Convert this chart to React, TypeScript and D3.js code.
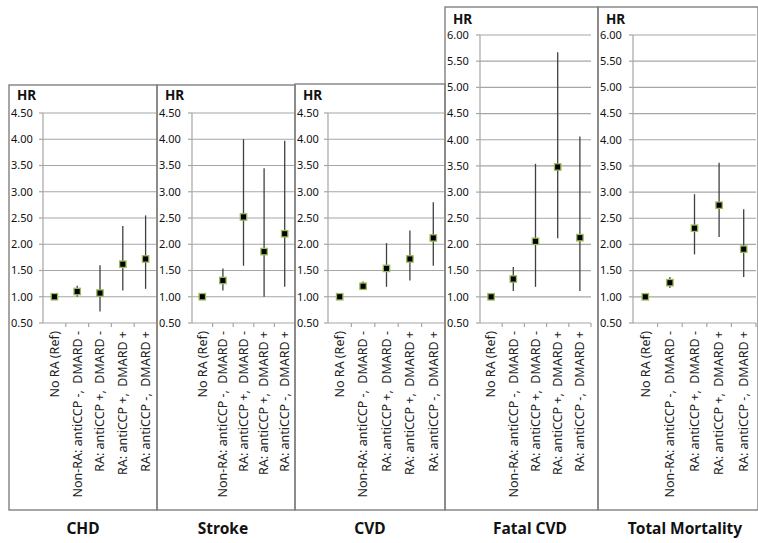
import React from "react";
import * as d3 from "d3";

// ---- Data ----
const CATEGORIES = [
  "No RA (Ref)",
  "Non-RA: antiCCP -,  DMARD -",
  "RA: antiCCP +,  DMARD -",
  "RA: antiCCP +,  DMARD +",
  "RA: antiCCP -,  DMARD +",
];
const OUTCOMES = ["CHD", "Stroke", "CVD", "Fatal CVD", "Total Mortality"];

const HR_CHD = [1.0, 1.1, 1.07, 1.62, 1.72];
const LO_CHD = [1.0, 1.0, 0.72, 1.12, 1.15];
const HI_CHD = [1.0, 1.21, 1.6, 2.35, 2.55];

const HR_STROKE = [1.0, 1.31, 2.52, 1.86, 2.2];
const LO_STROKE = [1.0, 1.12, 1.59, 1.0, 1.19];
const HI_STROKE = [1.0, 1.54, 4.0, 3.45, 3.97];

const HR_CVD = [1.0, 1.2, 1.54, 1.72, 2.12];
const LO_CVD = [1.0, 1.13, 1.19, 1.31, 1.59];
const HI_CVD = [1.0, 1.29, 2.02, 2.26, 2.8];

const HR_FATAL = [1.0, 1.34, 2.06, 3.48, 2.13];
const LO_FATAL = [1.0, 1.11, 1.19, 2.12, 1.11];
const HI_FATAL = [1.0, 1.57, 3.54, 5.67, 4.06];

const HR_TOTAL = [1.0, 1.27, 2.31, 2.75, 1.91];
const LO_TOTAL = [1.0, 1.17, 1.81, 2.14, 1.38];
const HI_TOTAL = [1.0, 1.38, 2.96, 3.56, 2.67];

const TICKS_SHORT = [0.5, 1.0, 1.5, 2.0, 2.5, 3.0, 3.5, 4.0, 4.5];
const TICKS_TALL = [0.5, 1.0, 1.5, 2.0, 2.5, 3.0, 3.5, 4.0, 4.5, 5.0, 5.5, 6.0];

const SERIES = [
  { hr: HR_CHD, lo: LO_CHD, hi: HI_CHD, ticks: TICKS_SHORT },
  { hr: HR_STROKE, lo: LO_STROKE, hi: HI_STROKE, ticks: TICKS_SHORT },
  { hr: HR_CVD, lo: LO_CVD, hi: HI_CVD, ticks: TICKS_SHORT },
  { hr: HR_FATAL, lo: LO_FATAL, hi: HI_FATAL, ticks: TICKS_TALL },
  { hr: HR_TOTAL, lo: LO_TOTAL, hi: HI_TOTAL, ticks: TICKS_TALL },
];

// ---- Layout ----
const LAYOUT = [
  { left: 9, right: 157, top: 85, axisX: 43, plotRight: 157, hrY: 100, yTop: 113, titleX: 83 },
  { left: 157, right: 295, top: 85, axisX: 192, plotRight: 295, hrY: 100, yTop: 113, titleX: 223 },
  { left: 295, right: 445, top: 84, axisX: 328, plotRight: 445, hrY: 100, yTop: 113, titleX: 370 },
  { left: 445, right: 598, top: 7, axisX: 480, plotRight: 591, hrY: 23.5, yTop: 35, titleX: 530 },
  { left: 598, right: 758, top: 7, axisX: 633, plotRight: 756, hrY: 23.5, yTop: 35, titleX: 685 },
];
const BOTTOM = 510;
const Y_BASE = 323;
const FONT = "'Noto Sans', 'Open Sans', sans-serif";
const GRID = "#a6a6a6";
const BORDER = "#808080";

function Panel({ idx }: { idx: number }) {
  const L = LAYOUT[idx];
  const S = SERIES[idx];
  const maxT = S.ticks[S.ticks.length - 1];
  const y = d3.scaleLinear().domain([0.5, maxT]).range([Y_BASE, L.yTop]);
  const x = d3.scaleBand<string>().domain(CATEGORIES).range([L.axisX, L.plotRight]);
  const bw = x.bandwidth();
  const fmt = d3.format(".2f");
  return (
    <g>
      <rect
        x={L.left}
        y={L.top}
        width={L.right - L.left}
        height={BOTTOM - L.top}
        fill="none"
        stroke={BORDER}
        strokeWidth={1.4}
      />
      <text x={L.left + 8} y={L.hrY} fontFamily={FONT} fontWeight="bold" fontSize={13.5} fill="#111">
        HR
      </text>
      {S.ticks.map((t) => (
        <g key={t}>
          {t > 0.5 && (
            <line x1={L.axisX} x2={L.plotRight} y1={y(t)} y2={y(t)} stroke={GRID} strokeWidth={1.2} />
          )}
          <line x1={L.axisX - 4} x2={L.axisX} y1={y(t)} y2={y(t)} stroke={GRID} strokeWidth={1.2} />
          <text x={L.left + 2} y={y(t)} dy="0.35em" fontFamily={FONT} fontSize={11} fill="#111">
            {fmt(t)}
          </text>
        </g>
      ))}
      <line x1={L.axisX} x2={L.axisX} y1={y(maxT)} y2={Y_BASE} stroke={GRID} strokeWidth={1.2} />
      <line x1={L.axisX} x2={L.plotRight} y1={Y_BASE} y2={Y_BASE} stroke={GRID} strokeWidth={1.2} />
      {CATEGORIES.map((c, i) => (
        <line
          key={"xt" + i}
          x1={(x(c) as number) + bw}
          x2={(x(c) as number) + bw}
          y1={Y_BASE}
          y2={Y_BASE + 4}
          stroke={GRID}
          strokeWidth={1.2}
        />
      ))}
      {CATEGORIES.map((c, i) => {
        const cx = (x(c) as number) + bw / 2;
        return (
          <g key={"pt" + i}>
            {S.hi[i] > S.lo[i] && (
              <line x1={cx} x2={cx} y1={y(S.hi[i])} y2={y(S.lo[i])} stroke="#404040" strokeWidth={1.3} />
            )}
            <rect
              x={cx - 3.2}
              y={y(S.hr[i]) - 3.2}
              width={6.4}
              height={6.4}
              fill="#000"
              stroke="#9bbb59"
              strokeWidth={1.3}
            />
          </g>
        );
      })}
      {CATEGORIES.map((c, i) => {
        const cx = (x(c) as number) + bw / 2;
        return (
          <text
            key={"cl" + i}
            transform={`translate(${cx},${Y_BASE + 8}) rotate(-90)`}
            textAnchor="end"
            dy="0.35em"
            fontFamily={FONT}
            fontSize={12.5}
            fill="#222"
            style={{ whiteSpace: "pre" }}
          >
            {c}
          </text>
        );
      })}
      <text
        x={L.titleX}
        y={534}
        textAnchor="middle"
        fontFamily={FONT}
        fontWeight="bold"
        fontSize={15.5}
        fill="#111"
      >
        {OUTCOMES[idx]}
      </text>
    </g>
  );
}

export default function App() {
  return (
    <svg
      width={758}
      height={543}
      style={{ position: "absolute", left: 0, top: 0, background: "#fff" }}
    >
      <rect width={758} height={543} fill="#fff" />
      {OUTCOMES.map((_, i) => (
        <Panel key={i} idx={i} />
      ))}
    </svg>
  );
}
